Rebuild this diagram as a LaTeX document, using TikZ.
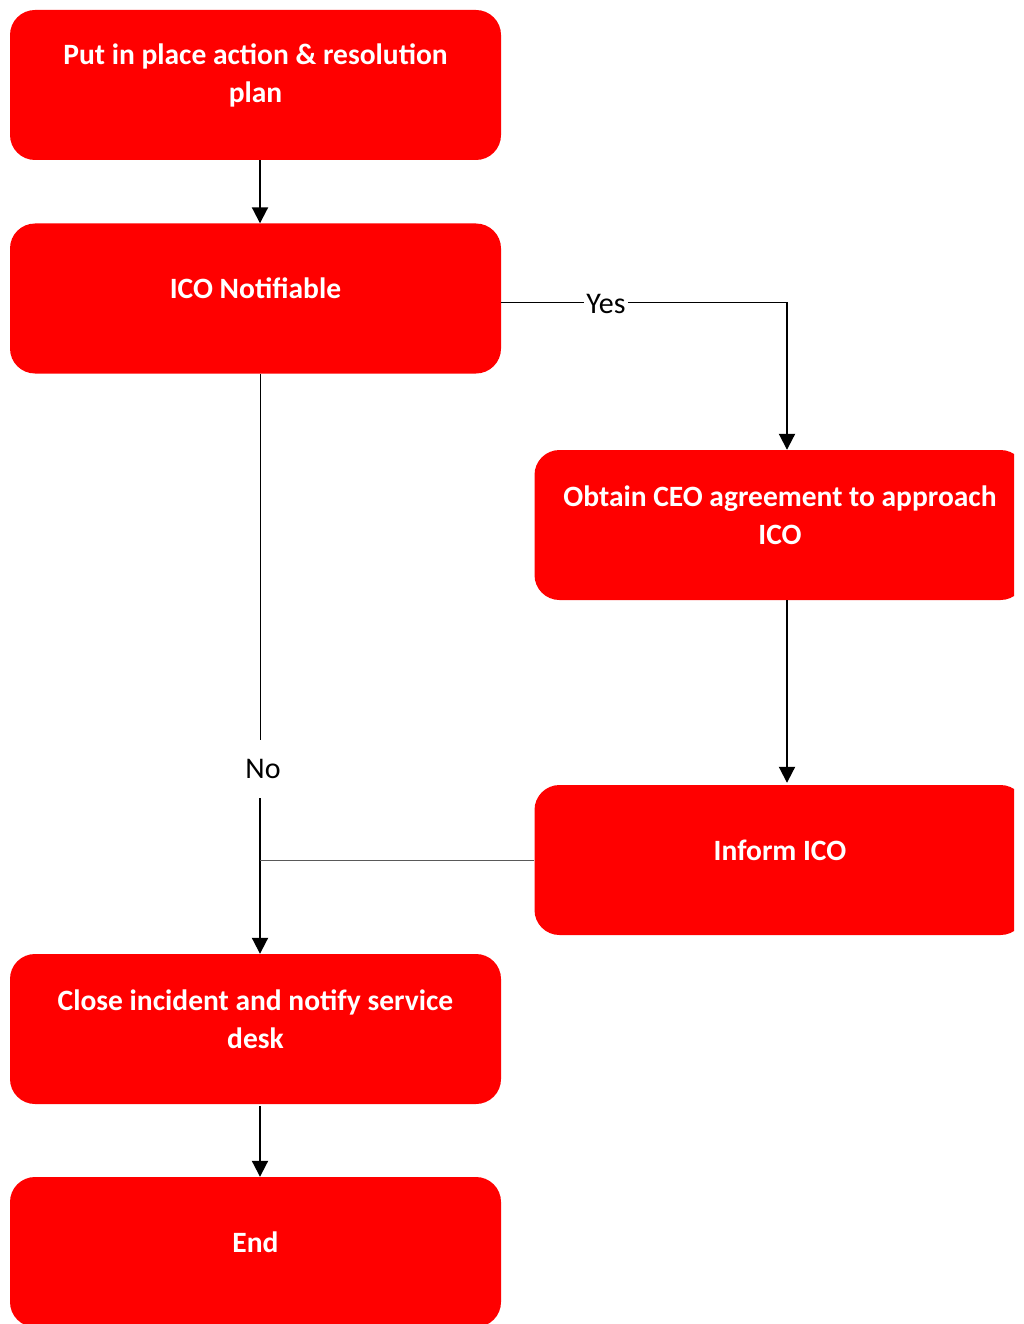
\documentclass[tikz,border=0pt]{standalone}
\usepackage{fontspec}
\setmainfont{Carlito}
\usepackage{xcolor}
\definecolor{boxred}{RGB}{255,0,0}
\usetikzlibrary{arrows.meta}
\tikzset{
box/.style={fill=boxred, rounded corners=25pt, minimum width=491pt, minimum height=150pt, inner sep=0pt,
  label={[boxtext,yshift=10pt]center:{#1}}},
boxtext/.style={text=white, font=\fontsize{29.5}{38}\selectfont\bfseries, align=center},
arr/.style={line width=2pt, -{Triangle[width=16pt,length=16pt]}},
thinline/.style={line width=1pt},
lbl/.style={font=\fontsize{30}{34}\selectfont, inner sep=2pt}
}
\begin{document}
\begin{tikzpicture}[x=1pt, y=-1pt]
\useasboundingbox (0,0) rectangle (1023,1324);
\clip (0,0) rectangle (1014,1324);
\foreach \name/\x/\y/\txt in {plan/255.5/85/{Put in place action \& resolution\\plan}, ico/255.5/298.5/{ICO Notifiable},
  ceo/780/525/{Obtain CEO agreement to approach\\ICO}, inform/780/860/{Inform ICO},
  close/255.5/1029/{Close incident and notify service\\desk}, finish/255.5/1252/{End}}{
\node[box=\txt] (\name) at (\x,\y) {};
}
\coordinate (spine) at (260,0);
\coordinate (yescorner) at (787,302);
\node[lbl, fill=white] (yes) at (606,304) {Yes};
\node[lbl, minimum height=58pt] (no) at (263,769) {No};
\draw[arr] (plan.south -| spine) -- (ico.north -| spine);
\draw[thinline] (ico.east |- yescorner) -- (yes.west |- yescorner);
\draw[thinline] (yes.east |- yescorner) -- (yescorner);
\draw[arr] (yescorner) -- (yescorner |- ceo.north);
\draw[arr] (ceo.south -| yescorner) -- ([yshift=2pt]inform.north -| yescorner);
\draw[thinline] (ico.south -| spine) -- (no.north -| spine);
\draw[arr] (no.south -| spine) -- (close.north -| spine);
\draw[thinline, black!65] (inform.west) -- (inform.west -| spine);
\draw[arr] ([yshift=-2pt]close.south -| spine) -- (finish.north -| spine);
\end{tikzpicture}
\end{document}
